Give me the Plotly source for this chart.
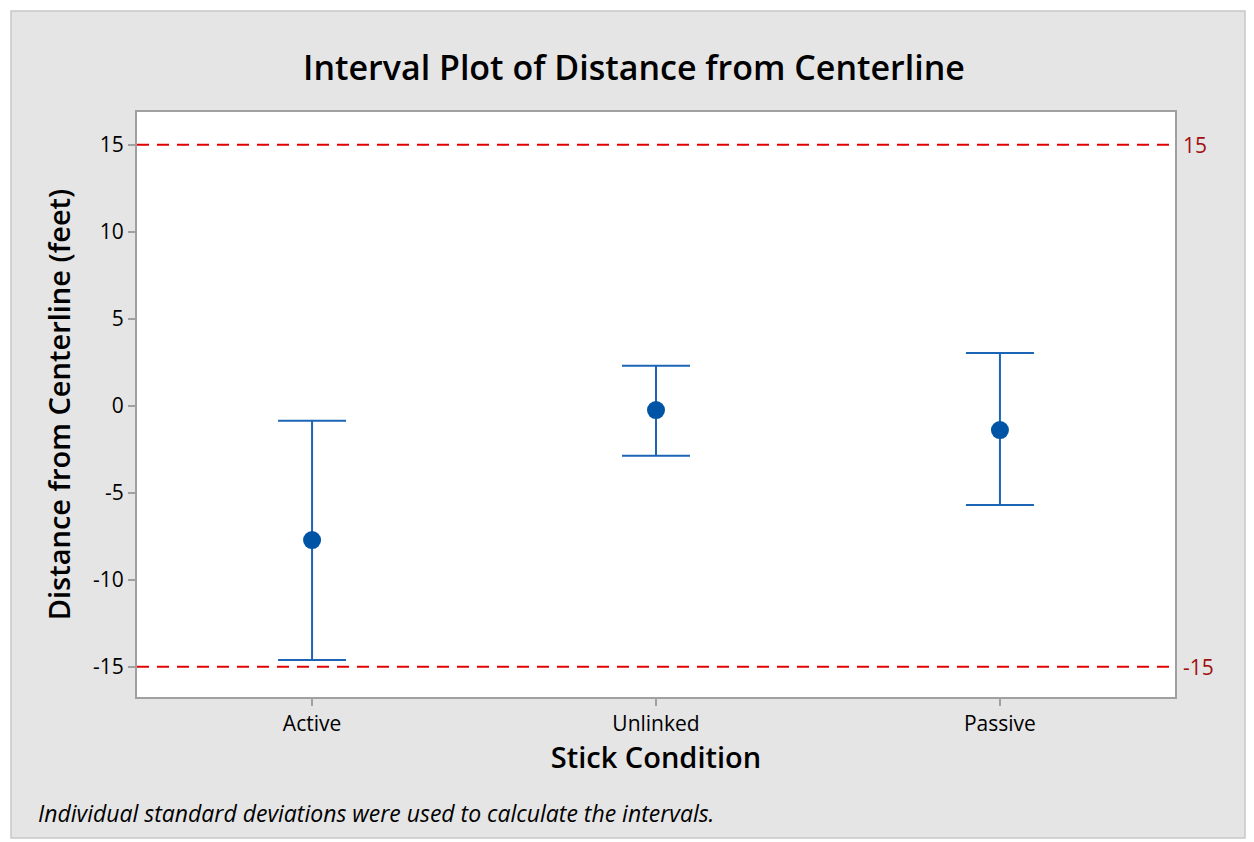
import plotly.graph_objects as go

categories = ["Active", "Unlinked", "Passive"]
means = [-7.72, -0.25, -1.40]
upper = [-0.86, 2.30, 3.03]
lower = [-14.61, -2.87, -5.71]
ref_values = [15, -15]
ref_labels = ["15", "-15"]
y_ticks = [-15, -10, -5, 0, 5, 10, 15]
y_tick_text = ["-15", "-10", "-5", "0", "5", "10", "15"]

xpos = list(range(len(categories)))
err_plus = [u - m for u, m in zip(upper, means)]
err_minus = [m - l for m, l in zip(means, lower)]

OFF = 8  # default page body margin
W, H = 1254 - OFF, 842 - OFF
L, T = 137 - OFF, 112 - OFF
R = W - (1175 - OFF)
B = H - (697 - OFF)
pw, ph = W - L - R, H - T - B

def px_to_paper_x(px):
    return (px - OFF - L) / pw

def px_to_paper_y(py):
    return (H - B - (py - OFF)) / ph

FONT = "Open Sans"
fig = go.Figure()

fig.add_trace(go.Scatter(
    x=xpos, y=means, mode="markers",
    marker=dict(size=18, color="#0054A6"),
    error_y=dict(type="data", symmetric=False, array=err_plus, arrayminus=err_minus,
                 width=34, thickness=2, color="#1C64B5"),
    showlegend=False, hoverinfo="skip",
))

shapes = []
shapes.append(dict(type="rect", xref="paper", yref="paper",
                   x0=px_to_paper_x(11), x1=px_to_paper_x(1245),
                   y0=px_to_paper_y(838), y1=px_to_paper_y(11),
                   fillcolor="#E5E5E5", line=dict(color="#C8C8C8", width=1.5), layer="below"))
shapes.append(dict(type="rect", xref="paper", yref="paper", x0=0, x1=1, y0=0, y1=1,
                   fillcolor="white", line=dict(width=0), layer="below"))
for v in ref_values:
    shapes.append(dict(type="line", xref="paper", yref="y", x0=0, x1=1, y0=v, y1=v,
                       line=dict(color="#E00000", width=2, dash="12px,8px"), layer="above"))

annotations = []
for v, lab in zip(ref_values, ref_labels):
    annotations.append(dict(xref="paper", yref="y", x=1, y=v, text=lab, showarrow=False,
                            xanchor="left", xshift=6,
                            font=dict(family=FONT, size=21, color="#A01010")))
annotations.append(dict(xref="paper", yref="paper", x=px_to_paper_x(36), y=px_to_paper_y(813),
                        text="<i>Individual standard deviations were used to calculate the intervals.</i>",
                        showarrow=False, xanchor="left", yanchor="middle",
                        font=dict(family=FONT, size=23, color="black")))

fig.update_layout(
    width=W, height=H,
    margin=dict(l=L, r=R, t=T, b=B, pad=0),
    paper_bgcolor="white", plot_bgcolor="rgba(0,0,0,0)",
    title=dict(text="Interval Plot of Distance from Centerline", x=(634 - OFF) / W, xref="container",
               xanchor="center", y=1 - (68 - OFF) / H, yanchor="middle",
               font=dict(family=FONT, size=34, color="black", weight=600)),
    shapes=shapes, annotations=annotations,
    xaxis=dict(range=[-0.509, 2.509], tickmode="array", tickvals=xpos, ticktext=categories,
               showgrid=False, zeroline=False, showline=True, mirror=True,
               linecolor="#A0A0A0", linewidth=2, ticks="outside", ticklen=7,
               tickcolor="#A0A0A0", tickwidth=2,
               tickfont=dict(family=FONT, size=21, color="black"),
               title=dict(text="Stick Condition", standoff=10,
                          font=dict(family=FONT, size=29, color="black", weight=600))),
    yaxis=dict(range=[-16.74, 16.88], tickmode="array", tickvals=y_ticks, ticktext=y_tick_text,
               showgrid=False, zeroline=False, showline=True, mirror=True,
               linecolor="#A0A0A0", linewidth=2, ticks="outside", ticklen=7,
               tickcolor="#A0A0A0", tickwidth=2,
               tickfont=dict(family=FONT, size=21, color="black"),
               title=dict(text="Distance from Centerline (feet)", standoff=14,
                          font=dict(family=FONT, size=29, color="black", weight=600))),
)

fig.write_html("out.html")
